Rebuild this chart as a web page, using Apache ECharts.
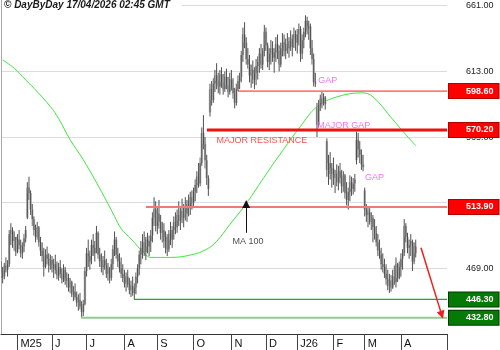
<!DOCTYPE html>
<html><head><meta charset="utf-8">
<script src="https://cdn.jsdelivr.net/npm/echarts@6/dist/echarts.min.js"></script>
<style>html,body{margin:0;padding:0;background:#fff}#c{width:500px;height:350px}</style>
</head><body><div id="c"></div>
<script>
// ---- data (index = trading day from mid-April 2025) ----
const opens = [470,466,463,471,468,472,494,497,489,492,481,490,486,480,485,491,506,528,524,512,
505,497,492,499,488,482,478,470,479,476,471,475,469,472,468,464,470,465,461,468,
460,462,455,459,450,452,448,444,446,441,437,443,467,480,474,478,486,480,484,495,
479,474,470,475,471,465,469,462,472,483,490,479,474,469,465,462,458,463,457,453,
456,451,455,463,469,479,484,488,481,490,485,489,493,506,512,500,509,503,495,497,
489,492,483,494,490,497,503,499,508,504,511,506,513,509,516,513,521,517,525,530,
536,531,546,568,560,548,535,583,600,592,604,610,606,602,611,605,600,609,603,598,
607,601,597,590,600,606,609,625,640,634,622,618,610,614,607,612,617,620,626,618,
628,642,632,620,626,630,623,627,633,628,618,630,634,628,633,630,635,631,637,640,
634,640,644,626,636,642,650,644,646,630,622,605,586,574,588,593,590,594,562,541,
546,538,542,535,538,532,540,535,529,537,524,519,525,532,527,531,548,563,556,552,
545,526,512,508,510,503,506,499,495,488,482,479,472,470,465,461,456,460,455,463,
459,472,462,470,476,480,500,492,484,486,488,474,485];
const closes = [466,463,471,468,472,494,497,489,492,481,490,486,480,485,491,497,528,524,512,505,
497,492,499,488,482,478,470,479,476,471,475,469,472,468,464,470,465,461,468,460,
462,455,459,450,452,448,444,446,441,437,443,467,480,474,478,486,480,484,495,479,
474,470,475,471,465,469,462,472,483,490,479,474,469,465,462,458,463,457,453,456,
451,455,463,469,479,484,488,481,490,485,489,493,506,512,500,509,503,495,497,489,
492,483,494,490,497,503,499,508,504,511,506,513,509,516,513,521,517,525,530,536,
531,546,568,560,548,535,527,600,592,604,610,606,602,611,605,600,609,603,598,607,
601,597,590,600,606,609,625,640,634,622,618,610,614,607,612,617,620,626,618,628,
642,632,620,626,630,623,627,633,628,618,630,634,628,633,630,635,631,637,640,634,
640,644,626,636,642,650,644,646,630,622,605,604,574,588,593,590,594,589,541,546,
538,542,535,538,532,540,535,529,537,524,519,525,532,527,531,534,563,556,552,545,
543,512,508,510,503,506,499,495,488,482,479,472,470,465,461,456,460,455,463,459,
472,462,470,476,480,500,492,484,486,489,474,485,480];
const lows = [462,458,461,466,463,470,486,484,482,478,480,483,477,476,481,488,505,519,508,500,
493,488,490,485,478,474,463,469,472,466,468,466,462,465,461,460,462,458,459,457,
455,452,451,448,445,446,441,438,439,432.8,434,442,463,470,468,472,478,474,480,476,
470,466,464,468,462,460,458,460,468,478,476,470,466,462,459,455,452,455,450,448,
449,446.3,450,458,464,472,476,478,475,480,478,481,488,500,496,494,498,490,488,484,
480,478,481,486,484,490,494,495,500,497,502,499,504,503,507,508,512,513,518,524,
528,529,544,556,542,530,522,580,588,590,598,600,597,596,601,596,598,600,594,596,
599,593,586,588,598.6,600,605,620,630,618,615,605,601,604,600,603,607,612,615,614,
624,628,616,614,618,620,612,620,622,613,616,624,624,622,626,623,628,624,630,628,
626,632,620,622,630,638,640,636,625,618,602,601.6,565,572,584,586,588,585,536,530,
534,528,530,524,529,526,531,524,525,520,515,512,518,522,523,525,545,550,546,541,
540,507,503,499,501,497,488,490,485,478,476,468,466,462,457,453,451,452,454,457,
455,459,461,463,468,478,488,480,476,478,467,472,477];
const highs = [474,470,473,477,475,497,502,499,496,492,494,497,490,488,494,500,532,536,526,516,
507,501,503,500,492,488,484,483,485,480,479,478,476,479,474,473,475,469,472,470,
466,465,462,460,456,458,452,450,451,445,446,470,484,490,482,490,494,489,500,496,
484,480,478,482,476,473,470,476,486,496,492,484,480,477,472,468,466,468,462,460,
463,458,466,472,482,489,494,496,492,495,493,497,510,521,518,514,519,508,503,502,
496,494,497,503,500,507,510,512,518,514,520,516,521,519,523,525,526,528,534,540,
546,550,572,581,565,552,537,604,606,608,614,619,612,614,616,611,613,615,609,612,
614,608,601,604,610,612,628,645,649,638,630,625,618,621,616,622,624,630,633,630,
647,645,634,630,636,635,630,638,640,632,634,641,640,637,641,638,643,640,645,643,
644,648,646,640,645,654,653,650,648,636,626,612,590,592,596,598,597,595,564,552,
554,546,550,541,545,544,546,541,540,538,532,528,537,536,535,538,569,568,562,556,
552,528,516,514,513,510,508,505,500,494,490,484,480,476,472,468,465,464,468,471,
477,473,474,480,483,505,502,495,490,494,490,488,490];
// 100-day moving average, read at sample days
const maIdx = [1,8,15,20,30,35,42,50,61,69,73,79,87,91,103,116,125,131,139,148.5,161.6,171.5,181.8,191.9,204.2,219.4,226,238.2,245.5,252.1];
const maVal = [621.4,615.3,606.8,600.7,587.3,578.5,563,548.4,525.2,507,498,490.5,480.2,477,477,479,483,488.7,501,515.5,538.7,555.7,572.5,587.1,594.4,597.3,594.4,577.6,567.4,558.6];
// month ticks
const monthTickIdx = [10,31,52,75,95,117,140,161,180,202,221,243];
const monthLabels = ['M25','J','J','A','S','O','N','D','J26','F','M','A'];
const axisEndIdx = 271;
// price axis
const priceMin = 421, priceMax = 665.2, priceStep = 48;
// key levels
const levels = [598.6, 570.2, 513.9, 446.3, 432.8];
const levelStart = [144, 125.1, 88.1, 80.8, 48.6];
// annotations
const notes = ['GAP','MAJOR GAP','GAP','MAJOR RESISTANCE','MA 100'];
const noteIdx = [192.7, 192.1, 221.2, 130.9, 140.6];
const notePrice = [606.4, 573.6, 535.2, 562.2, 488.5];
// arrows [fromIdx, fromPrice, toIdx, toPrice]
const maArrow = [149, 495, 149, 516];
const trendArrow = [255.2, 484.1, 267.8, 435];
const stamp = '© DayByDay 17/04/2026 02:45 GMT';

// ---- styles ----
const FONT = '"Liberation Sans", Arial, sans-serif';
const levelStyles = [
  {line:'#ff1a1a', w:1, box:'#ff0000', border:'#b00000'},
  {line:'#f01010', w:3, box:'#ff0000', border:'#b00000'},
  {line:'#f07878', w:2, box:'#ff0000', border:'#b00000'},
  {line:'#24a824', w:1.2, box:'#067a06', border:'#003a00'},
  {line:'#90cc90', w:2, box:'#067a06', border:'#003a00'}
];
const noteColors = ['#f050f0','#f050f0','#f050f0','#ff2020','#222'];

const bars = opens.map((o,i)=>[i,o,closes[i],lows[i],highs[i]]);

function renderBar(params, api){
  const i = api.value(0);
  const pO = api.coord([i, api.value(1)]);
  const pC = api.coord([i, api.value(2)]);
  const pL = api.coord([i, api.value(3)]);
  const pH = api.coord([i, api.value(4)]);
  const x = pH[0];
  const top = Math.min(pO[1], pC[1]);
  const h = Math.max(1, Math.abs(pO[1]-pC[1]));
  return {type:'group', children:[
    {type:'rect', shape:{x:x-1.2, y:top, width:2.4, height:h}, style:{fill:'#b8b8b8'}},
    {type:'line', shape:{x1:x, y1:pH[1], x2:x, y2:pL[1]}, style:{stroke:'#3c3c3c', lineWidth:0.9}}
  ]};
}

const levelSeries = levels.map((v,k)=>({
  type:'line', name:'level'+k, yAxisIndex:0, z:4, silent:true,
  data:[[levelStart[k], v],[axisEndIdx, v]],
  symbol:'none', lineStyle:{color:levelStyles[k].line, width:levelStyles[k].w},
  endLabel:{show:true, distance:2, formatter:v.toFixed(2),
     color:'#fff', fontWeight:'bold', fontSize:9, fontFamily:FONT,
     backgroundColor:levelStyles[k].box, borderColor:levelStyles[k].border, borderWidth:1,
     padding:[2,5,1,17], lineHeight:11}
}));

const arrowMarks = [
  [{coord:[maArrow[0], maArrow[1]], symbol:'none', lineStyle:{color:'#111', width:1, type:'solid'}, label:{show:false}},
   {coord:[maArrow[2], maArrow[3]], symbol:'triangle', symbolSize:8}],
  [{coord:[trendArrow[0], trendArrow[1]], symbol:'none', lineStyle:{color:'#ee2020', width:1.5, type:'solid'}, label:{show:false}},
   {coord:[trendArrow[2], trendArrow[3]], symbol:'triangle', symbolSize:8}]
];

const chart = echarts.init(document.getElementById('c'), null, {renderer:'canvas'});
chart.setOption({
  animation:false,
  backgroundColor:'#fff',
  grid:{left:1, right:53, top:0, bottom:16},
  xAxis:{type:'value', min:0, max:axisEndIdx,
    axisLine:{show:true, onZero:false, lineStyle:{color:'#333', width:1}},
    splitLine:{show:false},
    axisTick:{show:true, customValues:monthTickIdx.concat([axisEndIdx]), length:17, lineStyle:{color:'#444'}},
    axisLabel:{show:true, customValues:monthTickIdx,
      formatter:(v)=>monthLabels[monthTickIdx.indexOf(v)],
      align:'left', padding:[0,0,0,3], margin:4, fontSize:11, color:'#111', fontFamily:FONT}
  },
  yAxis:[
    {type:'value', position:'right', min:priceMin, max:priceMax, interval:priceStep, scale:true,
      axisLine:{show:true, lineStyle:{color:'#333'}},
      axisTick:{show:false},
      splitLine:{show:true, showMinLine:false, showMaxLine:false, lineStyle:{color:'#dcdcdc'}},
      axisLabel:{showMinLabel:false, showMaxLabel:false, formatter:(v)=>v.toFixed(2),
        margin:19, fontSize:9, color:'#222', fontFamily:FONT}
    },
    {type:'value', position:'left', min:0, max:1,
      axisLine:{show:true, lineStyle:{color:'#aaa'}}, axisTick:{show:false},
      axisLabel:{show:false}, splitLine:{show:false}}
  ],
  graphic:[
    {type:'rect', z:100, shape:{x:2, y:0, width:180, height:12}, style:{fill:'#fff'}},
    {type:'text', z:101, left:4, top:0, style:{text:stamp, font:'italic bold 10px '+FONT, fill:'#1a1a1a'}}
  ],
  series:[
    {type:'custom', name:'price', renderItem:renderBar, data:bars, yAxisIndex:0,
     encode:{x:0, y:[1,2,3,4]}, clip:true, z:3},
    {type:'line', name:'MA 100', data:maIdx.map((x,k)=>[x, maVal[k]]), yAxisIndex:0,
     smooth:0.4, symbol:'none', lineStyle:{color:'#3ee83e', width:1}, z:2,
     markLine:{silent:true, animation:false, symbol:['none','none'], data:arrowMarks}},
    ...levelSeries,
    {type:'scatter', name:'notes', yAxisIndex:0, symbolSize:0, z:5,
     data:notes.map((t,k)=>({value:[noteIdx[k], notePrice[k]], name:t,
       label:{color:noteColors[k]}})),
     label:{show:true, position:[0,0], align:'left', verticalAlign:'middle',
       formatter:(p)=>p.name, fontSize:9, fontFamily:FONT}}
  ]
});
</script></body></html>
